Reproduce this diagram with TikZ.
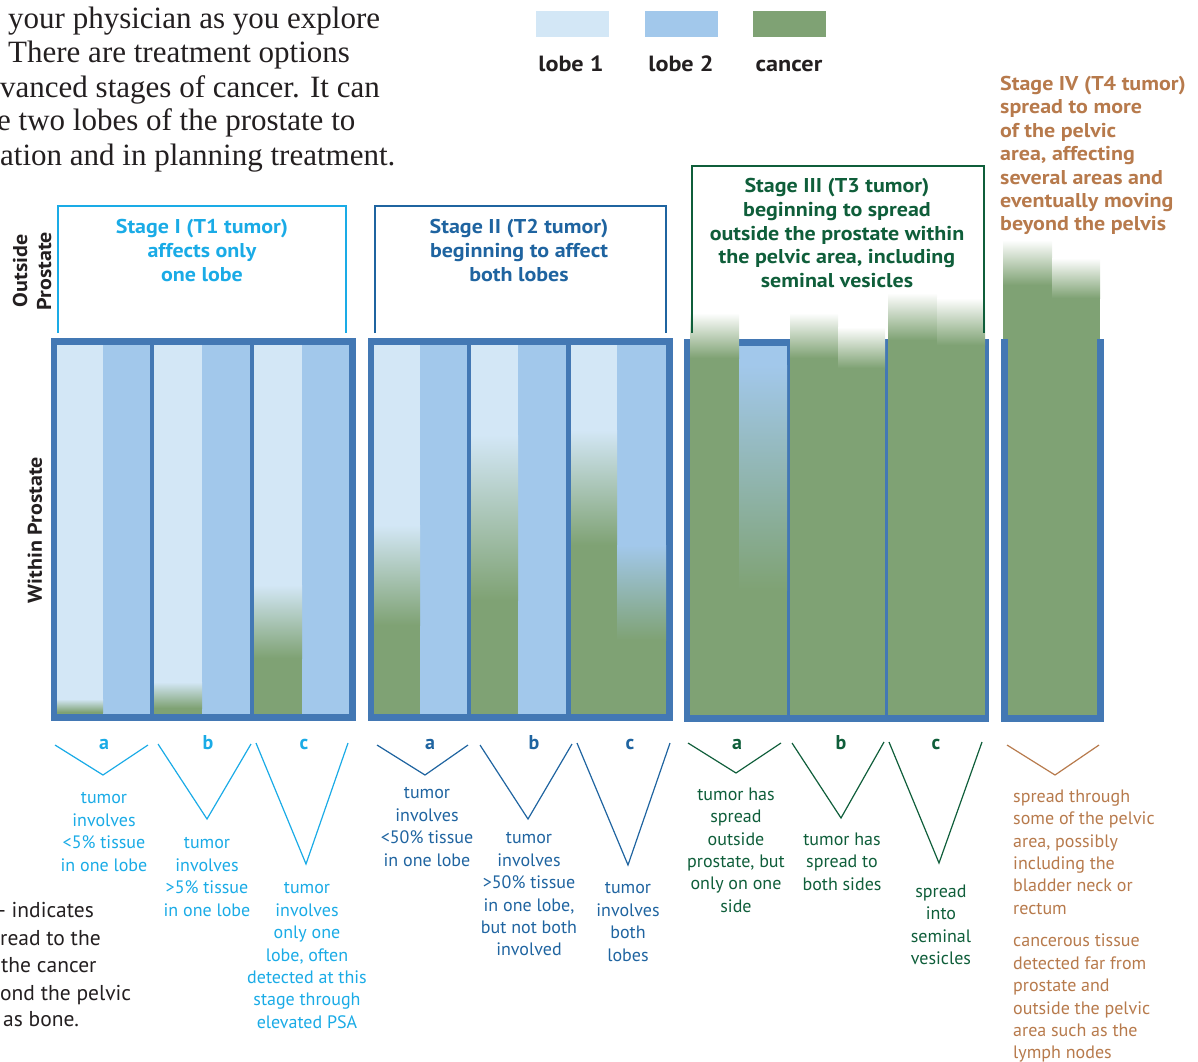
\documentclass[tikz,border=0pt]{standalone}
\usepackage{fontspec}
\setmainfont{PT Sans}
\newfontfamily\widesans[FakeStretch=1.1]{PT Sans}
\newfontfamily\bodyserif{Liberation Serif}
\definecolor{lobeA}{HTML}{D3E7F6}
\definecolor{lobeB}{HTML}{A2C8EB}
\definecolor{cancer}{HTML}{7FA274}
\definecolor{frameblue}{HTML}{4378B4}
\definecolor{stI}{HTML}{1AABE6}
\definecolor{stII}{HTML}{1F64A0}
\definecolor{stIII}{HTML}{0F5E3A}
\definecolor{stIV}{HTML}{B77A4C}
\definecolor{ink}{HTML}{231F20}
\tikzset{
  small/.style={font=\fontsize{18}{22.4}\selectfont, align=center, inner sep=0pt, anchor=north, execute at begin node=\strut},
  head/.style={font=\widesans\bfseries\fontsize{20}{24}\selectfont, align=center, inner sep=0pt, anchor=north, execute at begin node=\strut},
  letter/.style={font=\bfseries\fontsize{20}{24}\selectfont, inner sep=0pt, anchor=base},
  legendlab/.style={font=\widesans\bfseries\fontsize{22}{26}\selectfont, inner sep=0pt, anchor=base, text=ink},
  sidelab/.style={font=\widesans\bfseries\fontsize{20}{24}\selectfont, inner sep=0pt, align=center, rotate=90, text=ink},
  serifline/.style={font=\bodyserif\fontsize{31}{34}\selectfont, inner sep=0pt, anchor=base west, text=ink},
  noteline/.style={font=\fontsize{21.5}{27}\selectfont, inner sep=0pt, anchor=base west, text=ink},
  vshape/.style={line width=1.2pt},
  bracket/.style={line width=1.2pt},
}
\begin{document}
\begin{tikzpicture}[x=1pt,y=-1pt]
\useasboundingbox (0,0) rectangle (1198,1061);

% ---------- top-left paragraph fragment ----------
\node[serifline] (p1) at (8,28) {your physician as you explore};
\node[serifline] (p2) at (8,62) {There are treatment options};
\node[serifline] (p3) at (0,97) {vanced stages of cancer. It can};
\node[serifline] (p4) at (-3,130) {e two lobes of the prostate to};
\node[serifline] (p5) at (0,165) {ation and in planning treatment.};

% ---------- legend ----------
\fill[lobeA] (536,11) rectangle (609,37);
\fill[lobeB] (645,11) rectangle (718,37);
\fill[cancer] (753,11) rectangle (826,37);
\node[legendlab] (lg1) at (571,71) {lobe 1};
\node[legendlab] (lg2) at (681,71) {lobe 2};
\node[legendlab] (lg3) at (789,71) {cancer};

% ---------- side labels ----------
\node[sidelab] (outside) at (32,271) {Outside\\Prostate};
\node[sidelab] (within) at (35,530) {Within Prostate};

% ---------- Stage I ----------
\fill[frameblue] (51,338) rectangle (356,721);
\fill[lobeA] (57,345) rectangle (103,714);
\fill[lobeB] (103,345) rectangle (150,714);
\fill[lobeA] (154,345) rectangle (202,714);
\fill[lobeB] (202,345) rectangle (250,714);
\fill[lobeA] (254,345) rectangle (302,714);
\fill[lobeB] (302,345) rectangle (349,714);
\shade[top color=lobeA, bottom color=cancer] (57,699) rectangle (103,712);
\fill[cancer] (57,711.5) rectangle (103,714);
\shade[top color=lobeA, bottom color=cancer] (154,682) rectangle (202,708);
\fill[cancer] (154,707.5) rectangle (202,714);
\shade[top color=lobeA, bottom color=cancer] (254,585) rectangle (302,658);
\fill[cancer] (254,657.5) rectangle (302,714);
\draw[stI, bracket] (58,333) -- (58,206) -- (346,206) -- (346,333);
\node[head, text=stI] (h1) at (202,219) {Stage I (T1 tumor)\\affects only\\one lobe};

% ---------- Stage II ----------
\fill[frameblue] (368,338) rectangle (673,721);
\fill[lobeA] (374,345) rectangle (420,714);
\fill[lobeB] (420,345) rectangle (467,714);
\fill[lobeA] (471,345) rectangle (518,714);
\fill[lobeB] (518,345) rectangle (566,714);
\fill[lobeA] (571,345) rectangle (617,714);
\fill[lobeB] (617,345) rectangle (666,714);
\shade[top color=lobeA, bottom color=cancer] (374,525) rectangle (420,625);
\fill[cancer] (374,624.5) rectangle (420,714);
\shade[top color=lobeA, bottom color=cancer] (471,435) rectangle (518,600);
\fill[cancer] (471,599.5) rectangle (518,714);
\shade[top color=lobeA, bottom color=cancer] (571,430) rectangle (617,545);
\fill[cancer] (571,544.5) rectangle (617,714);
\shade[top color=lobeB, bottom color=cancer] (617,545) rectangle (666,640);
\fill[cancer] (617,639.5) rectangle (666,714);
\draw[stII, bracket] (375,333) -- (375,206) -- (666,206) -- (666,333);
\node[head, text=stII] (h2) at (519,219) {Stage II (T2 tumor)\\beginning to affect\\both lobes};

% ---------- Stage III ----------
\fill[frameblue] (684,339) rectangle (989,722);
\fill[lobeB] (739,346) rectangle (787,715);
\shade[top color=lobeB, bottom color=cancer] (739,365) rectangle (787,590);
\fill[cancer] (739,589.5) rectangle (787,715);
\shade[top color=white, bottom color=cancer] (690,313) rectangle (739,358);
\fill[cancer] (690,357.5) rectangle (739,715);
\shade[top color=white, bottom color=cancer] (790,313) rectangle (838,358);
\fill[cancer] (790,357.5) rectangle (838,715);
\shade[top color=white, bottom color=cancer] (838,327) rectangle (885,368);
\fill[cancer] (838,367.5) rectangle (885,715);
\shade[top color=white, bottom color=cancer] (888,293) rectangle (937,340);
\fill[cancer] (888,339.5) rectangle (937,715);
\shade[top color=white, bottom color=cancer] (937,298) rectangle (985,345);
\fill[cancer] (937,344.5) rectangle (985,715);
\draw[stIII, line width=1.5pt] (692,333) -- (692,166) -- (984,166) -- (984,333);
\node[head, text=stIII, font=\widesans\bfseries\fontsize{20}{23.8}\selectfont] (h3) at (837,178) {Stage III (T3 tumor)\\beginning to spread\\outside the prostate within\\the pelvic area, including\\seminal vesicles};

% ---------- Stage IV ----------
\shade[top color=white, bottom color=cancer] (1003,240) rectangle (1052,285);
\fill[cancer] (1003,284.5) rectangle (1052,715);
\shade[top color=white, bottom color=cancer] (1052,258) rectangle (1100,298);
\fill[cancer] (1052,297.5) rectangle (1100,715);
\fill[frameblue] (1001,339) rectangle (1008,722);
\fill[frameblue] (1097,339) rectangle (1104,722);
\fill[frameblue] (1001,715) rectangle (1104,722);
\node[head, text=stIV, align=left, anchor=north west, font=\widesans\bfseries\fontsize{20}{23.4}\selectfont] (h4) at (1000,76) {Stage IV (T4 tumor)\\spread to more\\of the pelvic\\area, affecting\\several areas and\\eventually moving\\beyond the pelvis};

% ---------- letters ----------
\node[letter, text=stI] (Ia) at (104,749) {a};
\node[letter, text=stI] (Ib) at (208,749) {b};
\node[letter, text=stI] (Ic) at (304,749) {c};
\node[letter, text=stII] (IIa) at (430,749) {a};
\node[letter, text=stII] (IIb) at (534,749) {b};
\node[letter, text=stII] (IIc) at (630,749) {c};
\node[letter, text=stIII] (IIIa) at (737,749) {a};
\node[letter, text=stIII] (IIIb) at (841,749) {b};
\node[letter, text=stIII] (IIIc) at (936,749) {c};

% ---------- V shapes ----------
\draw[stI, vshape] (55,745) -- (103,775) -- (148,745);
\draw[stI, vshape] (158,744) -- (207,819) -- (251,744);
\draw[stI, vshape] (256,743) -- (306,864) -- (348,743);
\draw[stII, vshape] (377,745) -- (425,775) -- (468,745);
\draw[stII, vshape] (480,745) -- (528,819) -- (572,744);
\draw[stII, vshape] (577,743) -- (628,865) -- (670,743);
\draw[stIII, vshape] (688,743) -- (736,773) -- (781,743);
\draw[stIII, vshape] (792,743) -- (841,818) -- (884,742);
\draw[stIII, vshape] (889,742) -- (939,863) -- (982,742);
\draw[stIV, vshape] (1007,745) -- (1055,775) -- (1099,745);

% ---------- descriptions ----------
\node[small, text=stI] (dIa) at (104,792.5) {tumor\\involves\\<5\% tissue\\in one lobe};
\node[small, text=stI] (dIb) at (207,837.5) {tumor\\involves\\>5\% tissue\\in one lobe};
\node[small, text=stI] (dIc) at (307,882.5) {tumor\\involves\\only one\\lobe, often\\detected at this\\stage through\\elevated PSA};
\node[small, text=stII] (dIIa) at (427,787.5) {tumor\\involves\\<50\% tissue\\in one lobe};
\node[small, text=stII] (dIIb) at (529,832.5) {tumor\\involves\\>50\% tissue\\in one lobe,\\but not both\\involved};
\node[small, text=stII] (dIIc) at (628,882.5) {tumor\\involves\\both\\lobes};
\node[small, text=stIII] (dIIIa) at (736,787.5) {tumor has\\spread\\outside\\prostate, but\\only on one\\side};
\node[small, text=stIII] (dIIIb) at (842,832.5) {tumor has\\spread to\\both sides};
\node[small, text=stIII] (dIIIc) at (941,884.5) {spread\\into\\seminal\\vesicles};
\node[small, text=stIV, align=left, anchor=north west] (dIV1) at (1013,789.5) {spread through\\some of the pelvic\\area, possibly\\including the\\bladder neck or\\rectum};
\node[small, text=stIV, align=left, anchor=north west] (dIV2) at (1013,934) {cancerous tissue\\detected far from\\prostate and\\outside the pelvic\\area such as the\\lymph nodes};

% ---------- bottom-left note fragment ----------
\node[noteline] (n1) at (-2,917) {- indicates};
\node[noteline] (n2) at (0,945) {read to the};
\node[noteline] (n3) at (1,972) {the cancer};
\node[noteline] (n4) at (0,1000) {ond the pelvic};
\node[noteline] (n5) at (3,1026) {as bone.};
\end{tikzpicture}
\end{document}
